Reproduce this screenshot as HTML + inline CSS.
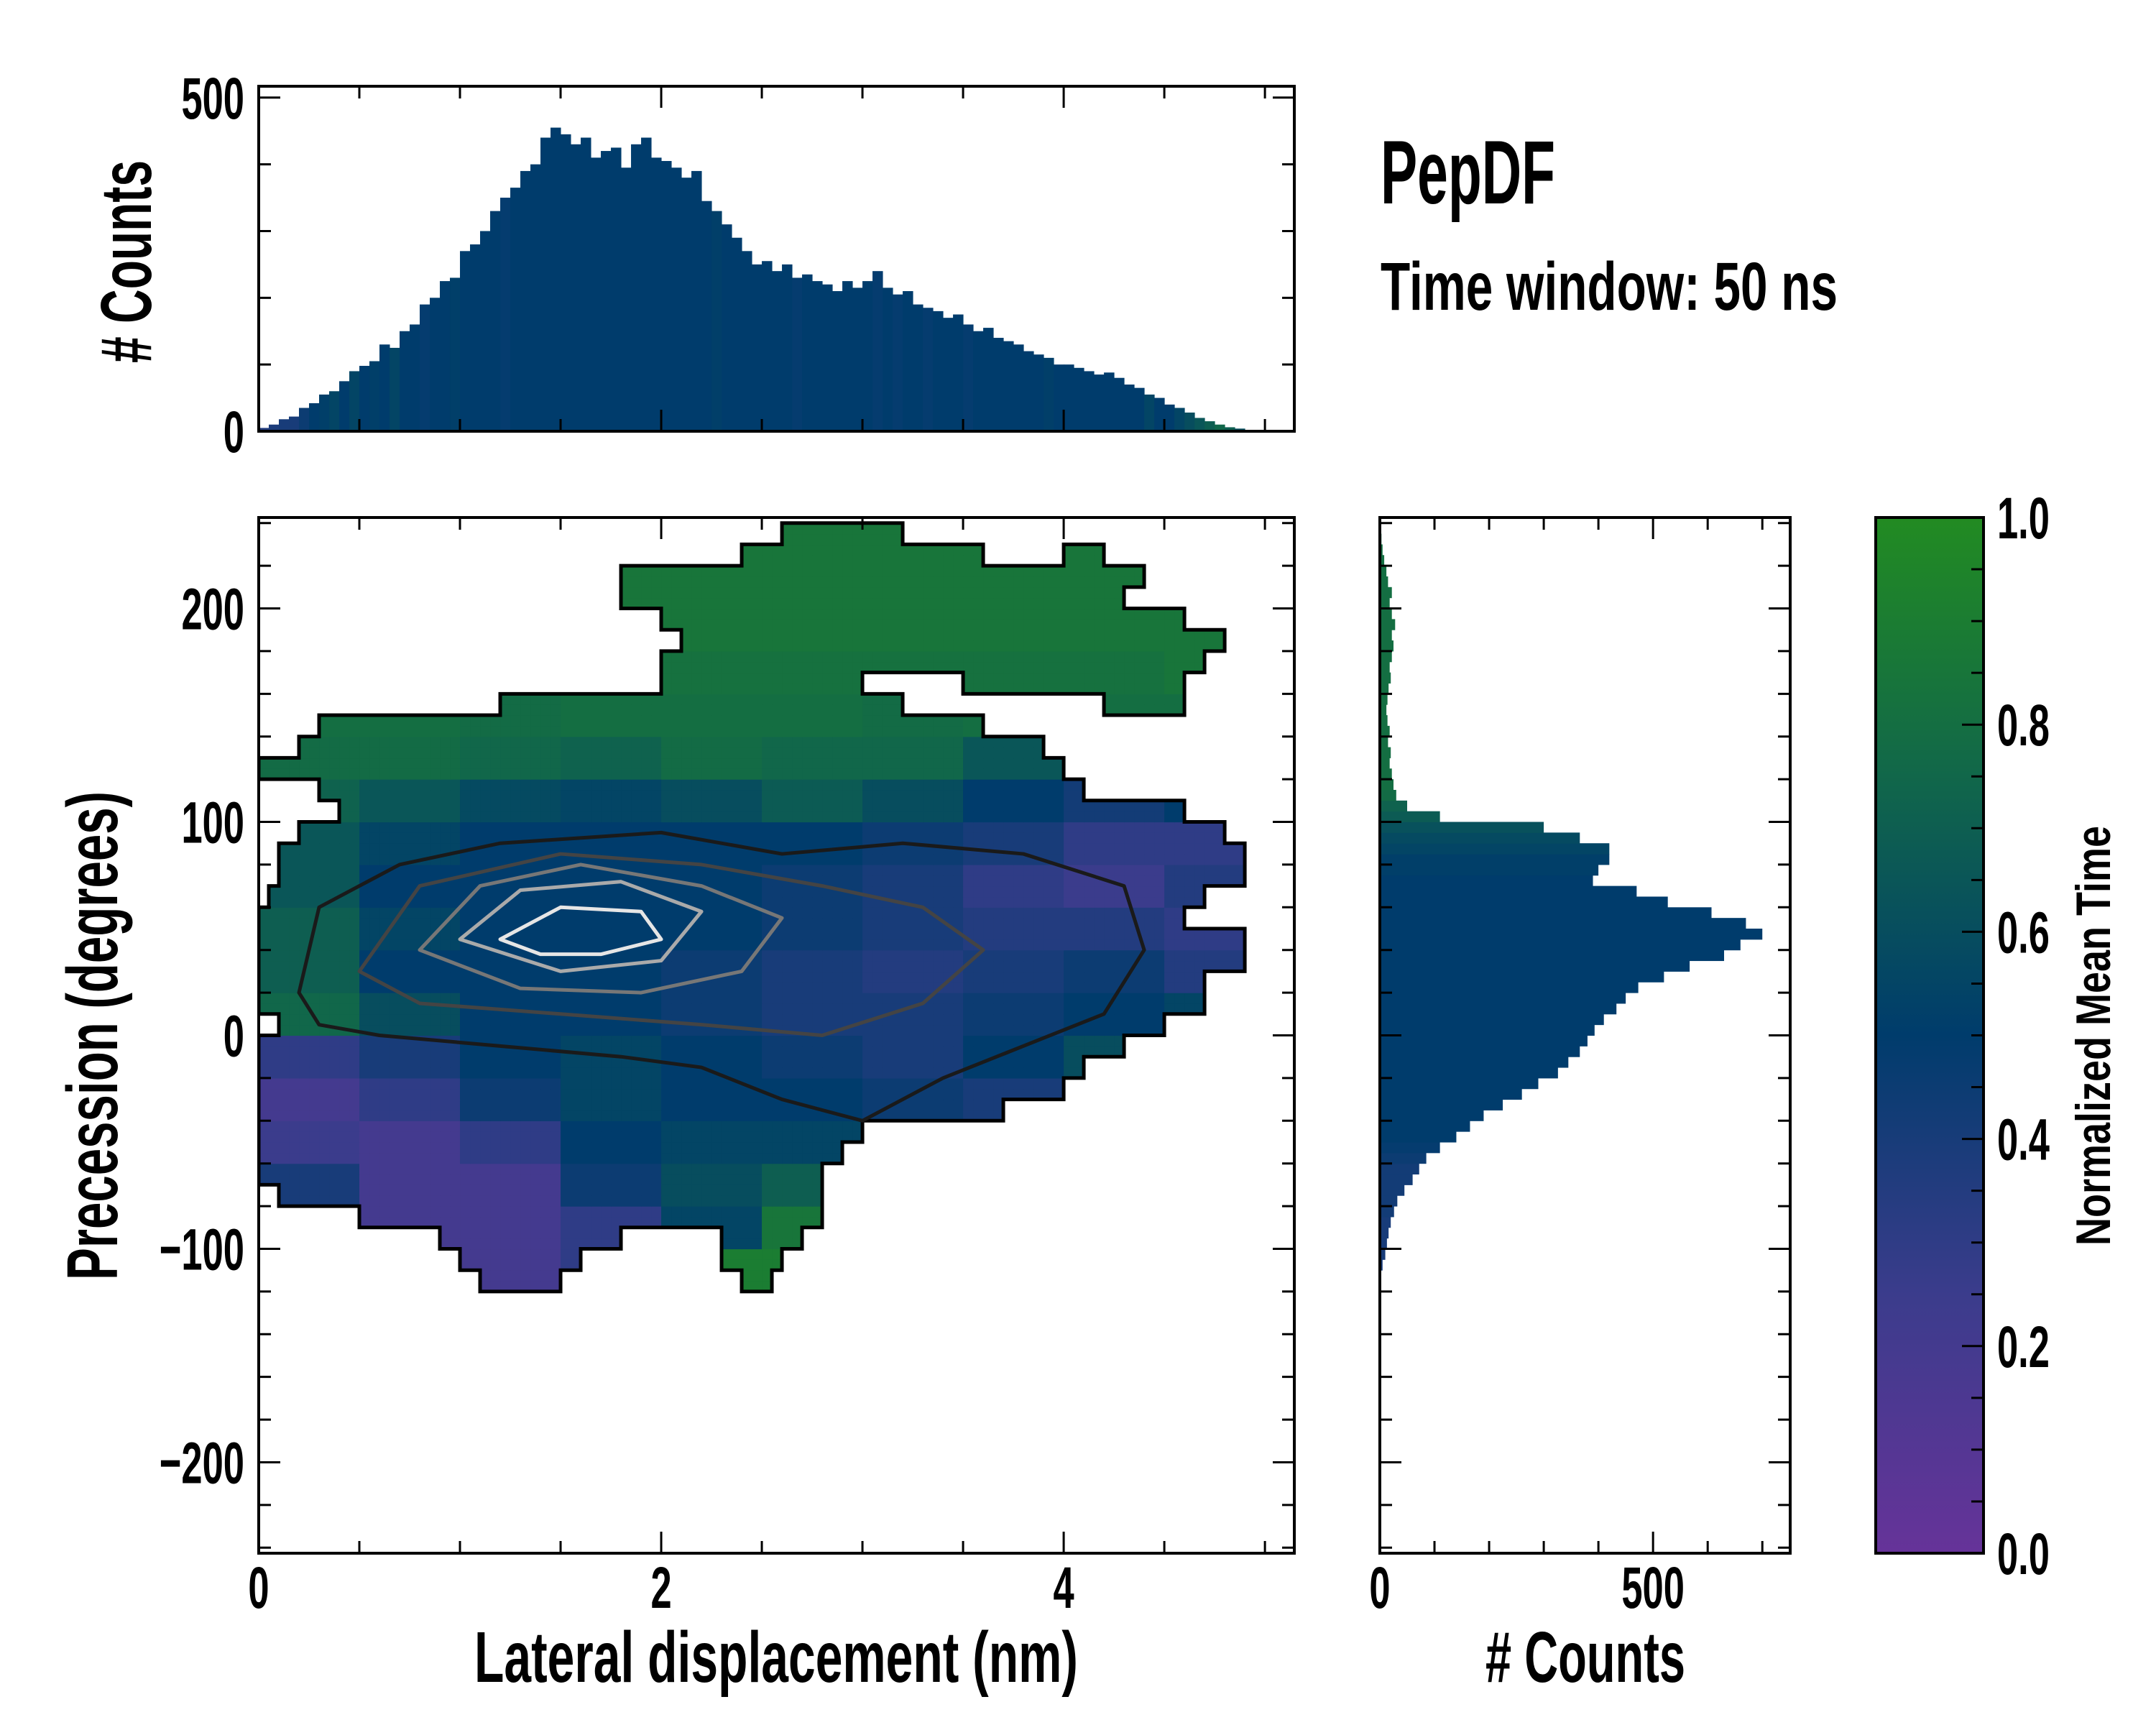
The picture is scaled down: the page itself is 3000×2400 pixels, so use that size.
<!DOCTYPE html>
<html><head><meta charset="utf-8">
<style>
html,body{margin:0;padding:0;background:#fff;}
svg{display:block;font-family:"Liberation Sans Narrow","Liberation Sans",sans-serif;font-weight:bold;}
</style></head>
<body>
<svg id="fig" width="3000" height="2400" viewBox="0 0 3000 2400" xmlns="http://www.w3.org/2000/svg">
<rect x="0" y="0" width="3000" height="2400" fill="#fff"/>
<defs>
<linearGradient id="cbgrad" x1="0" y1="1" x2="0" y2="0">
<stop offset="0" stop-color="#663399"/><stop offset="0.25" stop-color="#3b3c8c"/><stop offset="0.5" stop-color="#003c6c"/><stop offset="0.75" stop-color="#11674a"/><stop offset="1" stop-color="#228b22"/>
</linearGradient>
<clipPath id="mainclip"><rect x="360" y="720" width="1441" height="1441"/></clipPath>
</defs>
<g id="heat" clip-path="url(#mainclip)"></g>
<g id="outline" clip-path="url(#mainclip)"></g>
<g id="contours" clip-path="url(#mainclip)"></g>
<g id="tophist"></g>
<g id="righthist"></g>
<rect x="2610" y="720" width="150" height="1441" fill="url(#cbgrad)" stroke="#000" stroke-width="4"/>
<g id="axes"></g>

<text x="1921" y="283" font-size="125" textLength="243" lengthAdjust="spacingAndGlyphs">PepDF</text>
<text x="1921" y="431" font-size="95" textLength="636" lengthAdjust="spacingAndGlyphs">Time window: 50 ns</text>
<text x="1080" y="2340" font-size="100" text-anchor="middle" textLength="840" lengthAdjust="spacingAndGlyphs">Lateral displacement (nm)</text>
<text x="2206" y="2340" font-size="100" text-anchor="middle" textLength="278" lengthAdjust="spacingAndGlyphs"># Counts</text>
<text transform="translate(210,364) rotate(-90)" font-size="100" text-anchor="middle" textLength="282" lengthAdjust="spacingAndGlyphs"># Counts</text>
<text transform="translate(163,1441) rotate(-90)" font-size="100" text-anchor="middle" textLength="680" lengthAdjust="spacingAndGlyphs">Precession (degrees)</text>
<text transform="translate(2936,1441) rotate(-90)" font-size="68" text-anchor="middle" textLength="584" lengthAdjust="spacingAndGlyphs">Normalized Mean Time</text>
</svg>
<script>
// ---------- data ----------
const topBinWidth = 0.05;
const topCounts = [5,10,18,22,35,42,55,60,75,90,98,105,130,125,150,160,190,200,225,230,270,280,300,330,350,365,390,400,440,455,445,430,440,410,420,425,395,430,440,410,405,395,380,390,345,330,310,290,270,250,255,240,250,230,235,225,220,210,225,215,225,240,215,205,210,190,185,180,170,175,160,150,155,140,135,130,120,115,110,100,100,95,90,85,88,80,70,65,55,50,40,35,28,20,15,10,6,4,2,1];
const topTime = [0.35,0.38,0.4,0.4,0.45,0.5,0.52,0.55,0.5,0.55,0.5,0.52,0.5,0.55,0.5,0.5,0.48,0.5,0.5,0.52,0.5,0.5,0.5,0.5,0.48,0.5,0.5,0.5,0.5,0.5,0.5,0.5,0.5,0.5,0.5,0.5,0.5,0.5,0.5,0.5,0.5,0.5,0.5,0.5,0.5,0.52,0.5,0.5,0.5,0.5,0.5,0.5,0.5,0.48,0.5,0.5,0.5,0.5,0.5,0.5,0.5,0.48,0.5,0.48,0.5,0.5,0.48,0.5,0.5,0.5,0.48,0.5,0.5,0.5,0.5,0.5,0.5,0.5,0.52,0.5,0.5,0.5,0.5,0.5,0.5,0.5,0.5,0.5,0.55,0.5,0.5,0.55,0.6,0.65,0.7,0.75,0.7,0.6,0.5,0.5];
const rightBinStart = -120;
const rightBinWidth = 5;
const rightCounts = [0,2,5,10,13,16,20,26,32,45,60,72,85,110,140,165,190,225,260,290,326,345,366,380,393,410,433,450,473,520,567,630,660,700,670,607,527,470,390,400,420,420,366,300,110,50,30,25,22,18,20,15,18,14,12,14,16,20,18,22,25,22,28,22,18,22,15,12,8,5,3,0];
const rightTime = [0.4,0.4,0.4,0.4,0.4,0.4,0.4,0.42,0.42,0.42,0.42,0.42,0.45,0.48,0.5,0.5,0.5,0.5,0.5,0.5,0.5,0.5,0.5,0.5,0.5,0.5,0.5,0.5,0.5,0.5,0.5,0.5,0.5,0.5,0.5,0.5,0.5,0.5,0.5,0.52,0.52,0.55,0.58,0.62,0.68,0.72,0.78,0.8,0.8,0.8,0.8,0.8,0.8,0.8,0.8,0.8,0.8,0.8,0.8,0.8,0.8,0.8,0.8,0.8,0.8,0.8,0.8,0.8,0.8,0.8,0.8,0.8];
// occupancy per 10-degree row (row centers), spans in nm
const rowCenters = [235,225,215,205,195,185,175,165,155,145,135,125,115,105,95,85,75,65,55,45,35,25,15,5,-5,-15,-25,-35,-45,-55,-65,-75,-85,-95,-105,-115];
const spanStartA = [2.6,2.4,1.8,1.8,2.0,2.1,2.0,2.0,1.2,0.3,0.2,0.0,0.3,0.4,0.2,0.1,0.1,0.05,0.0,0.0,0.0,0.0,0.0,0.1,0.0,0.0,0.0,0.0,0.0,0.0,0.0,0.1,0.5,0.9,1.0,1.1];
const spanEndA   = [3.2,3.6,4.4,4.3,4.6,4.8,4.7,3.0,3.2,3.6,3.9,4.0,4.1,4.6,4.8,4.9,4.9,4.7,4.6,4.9,4.9,4.7,4.7,4.5,4.3,4.1,4.0,3.7,3.0,2.9,2.8,2.8,2.8,1.8,1.6,1.5];
const spanStartB = [null,4.0,null,null,null,null,null,3.5,4.2,null,null,null,null,null,null,null,null,null,null,null,null,null,null,null,null,null,null,null,null,null,null,null,null,2.3,2.3,2.4];
const spanEndB   = [null,4.2,null,null,null,null,null,4.6,4.6,null,null,null,null,null,null,null,null,null,null,null,null,null,null,null,null,null,null,null,null,null,null,null,null,2.7,2.6,2.55];
// coarse mean-time grid: rows of 20 deg (top row 220-240) x cols of 0.5 nm
const timeRowTop = [240,220,200,180,160,140,120,100,80,60,40,20,0,-20,-40,-60,-80,-100];
const timeGrid = [
[0.85,0.85,0.85,0.85,0.85,0.85,0.85,0.85,0.85,0.85,0.85],
[0.85,0.85,0.85,0.85,0.85,0.85,0.85,0.85,0.85,0.85,0.85],
[0.85,0.85,0.85,0.85,0.85,0.85,0.85,0.85,0.85,0.85,0.85],
[0.82,0.82,0.82,0.82,0.82,0.82,0.82,0.82,0.82,0.85,0.85],
[0.8,0.8,0.78,0.8,0.8,0.8,0.78,0.8,0.8,0.8,0.8],
[0.78,0.78,0.75,0.72,0.78,0.75,0.75,0.65,0.6,0.6,0.6],
[0.72,0.65,0.58,0.55,0.6,0.68,0.6,0.5,0.42,0.5,0.6],
[0.65,0.55,0.5,0.5,0.5,0.5,0.45,0.4,0.3,0.3,0.5],
[0.65,0.5,0.5,0.5,0.5,0.45,0.4,0.3,0.25,0.35,0.5],
[0.7,0.55,0.5,0.5,0.5,0.45,0.4,0.35,0.35,0.3,0.4],
[0.7,0.5,0.5,0.5,0.45,0.4,0.35,0.4,0.45,0.35,0.4],
[0.75,0.6,0.5,0.5,0.45,0.4,0.4,0.45,0.5,0.55,0.6],
[0.3,0.4,0.5,0.55,0.5,0.45,0.4,0.5,0.6,0.6,0.6],
[0.2,0.3,0.45,0.55,0.5,0.5,0.45,0.4,0.6,0.6,0.6],
[0.25,0.2,0.3,0.5,0.55,0.55,0.35,0.45,0.5,0.5,0.5],
[0.4,0.2,0.2,0.45,0.6,0.7,0.5,0.5,0.5,0.5,0.5],
[0.3,0.2,0.2,0.3,0.55,0.85,0.85,0.5,0.5,0.5,0.5],
[0.2,0.2,0.2,0.3,0.9,0.9,0.9,0.5,0.5,0.5,0.5]];
// density contour loops (nm, degrees)
const contourA_x = [0.2,0.3,0.7,1.2,2.0,2.6,3.2,3.8,4.3,4.4,4.2,3.8,3.4,3.0,2.6,2.2,1.8,1.2,0.6,0.3];
const contourA_y = [20,60,80,90,95,85,90,85,70,40,10,-5,-20,-40,-30,-15,-10,-5,0,5];
const contourB_x = [0.5,0.8,1.5,2.2,2.8,3.3,3.6,3.3,2.8,2.2,1.5,0.8];
const contourB_y = [30,70,85,80,70,60,40,15,0,5,10,15];
const contourC_x = [0.8,1.1,1.6,2.2,2.6,2.4,1.9,1.3];
const contourC_y = [40,70,80,70,55,30,20,22];
const contourD_x = [1.0,1.3,1.8,2.2,2.0,1.5];
const contourD_y = [45,68,72,58,35,30];
const contourE_x = [1.2,1.5,1.9,2.0,1.7,1.4];
const contourE_y = [45,60,58,45,38,38];
const xTicks = [0,2,4];
const yTicks = [-200,-100,0,100,200];
const topYTicks = [0,500];
const rightXTicks = [0,500];
const cbTicks = [0.0,0.2,0.4,0.6,0.8,1.0];

// ---------- scales ----------
const MX0=360, MX1=1801, MY0=720, MY1=2161;
const XMAX=5.146, YMIN=-242.6, YMAX=242.6;
const sx = v => MX0 + v/XMAX*(MX1-MX0);
const sy = v => MY1 - (v-YMIN)/(YMAX-YMIN)*(MY1-MY0);
const TY0=120, TY1=600, TMAX=517;
const tsy = c => TY1 - c/TMAX*(TY1-TY0);
const RX0=1920, RX1=2491, RMAX=751;
const rsx = c => RX0 + c/RMAX*(RX1-RX0);
const CB0=720, CB1=2161;
const csy = t => CB1 - t*(CB1-CB0);

const stops=[[0,[0x66,0x33,0x99]],[0.25,[0x3b,0x3c,0x8c]],[0.5,[0x00,0x3c,0x6c]],[0.75,[0x11,0x67,0x4a]],[1,[0x22,0x8b,0x22]]];
function cmap(t){t=Math.max(0,Math.min(1,t));for(let i=1;i<stops.length;i++){if(t<=stops[i][0]){const a=stops[i-1],b=stops[i],f=(t-a[0])/(b[0]-a[0]);const c=a[1].map((v,k)=>Math.round(v+(b[1][k]-v)*f));return `rgb(${c[0]},${c[1]},${c[2]})`;}}return 'rgb(34,139,34)';}

const NS='http://www.w3.org/2000/svg';
function mk(tag,attrs,parent){const e=document.createElementNS(NS,tag);for(const k in attrs)e.setAttribute(k,attrs[k]);parent.appendChild(e);return e;}

// ---------- heatmap ----------
const heat=document.getElementById('heat');
const CW=0.05, CH=5;
const nCols=Math.ceil(XMAX/CW);
const rowsLo=-120, rowsHi=240;
const nRows=(rowsHi-rowsLo)/CH;
const occ=[];
function lookupTime(x,y){let r=timeRowTop.findIndex(t=>y<t && y>=t-20);if(r<0)r=y>=240?0:timeRowTop.length-1;let c=Math.min(timeGrid[r].length-1,Math.floor(x/0.5));return timeGrid[r][c];}
for(let j=0;j<nRows;j++){
  occ.push([]);
  const yc=rowsLo+(j+0.5)*CH;
  let ri=rowCenters.findIndex(rc=>Math.abs(rc-yc)<=5);
  for(let i=0;i<nCols;i++){
    const xc=(i+0.5)*CW;
    let on=false;
    if(ri>=0){
      if(xc>=spanStartA[ri]&&xc<=spanEndA[ri])on=true;
      if(spanStartB[ri]!==null&&xc>=spanStartB[ri]&&xc<=spanEndB[ri])on=true;
    }
    occ[j].push(on);
    if(on){
      const r=mk('rect',{x:sx(i*CW),y:sy(rowsLo+(j+1)*CH),width:sx(CW)-sx(0)+0.6,height:sy(0)-sy(CH)+0.6,fill:cmap(lookupTime(xc,yc))},heat);
      
      
    }
  }
}
// outline
let d='';
const isOn=(j,i)=>j>=0&&j<nRows&&i>=0&&i<nCols&&occ[j][i];
for(let j=0;j<nRows;j++)for(let i=0;i<nCols;i++){if(!occ[j][i])continue;
  const x0=sx(i*CW),x1=sx((i+1)*CW),yb=sy(rowsLo+j*CH),yt=sy(rowsLo+(j+1)*CH);
  if(!isOn(j,i-1))d+=`M${x0},${yb}V${yt}`;
  if(!isOn(j,i+1))d+=`M${x1},${yb}V${yt}`;
  if(!isOn(j+1,i))d+=`M${x0},${yt}H${x1}`;
  if(!isOn(j-1,i))d+=`M${x0},${yb}H${x1}`;}
const ol=mk('path',{d:d,stroke:'#000',"stroke-width":5,fill:'none',"stroke-linecap":'square'},document.getElementById('outline'));



// contours
const cg=document.getElementById('contours');
const contourSets=[[contourA_x,contourA_y,'#1a1a1a'],[contourB_x,contourB_y,'#444'],[contourC_x,contourC_y,'#777'],[contourD_x,contourD_y,'#aaa'],[contourE_x,contourE_y,'#e6e6e6']];
contourSets.forEach((s,k)=>{
  const pts=s[0].map((x,i)=>`${sx(x)},${sy(s[1][i])}`).join(' ');
  const p=mk('polygon',{points:pts,fill:'none',stroke:s[2],"stroke-width":5,"stroke-linejoin":'round'},cg);
  
  
});

// top histogram
const th=document.getElementById('tophist');
topCounts.forEach((c,i)=>{
  const x0=sx(i*topBinWidth), x1=sx((i+1)*topBinWidth);
  const r=mk('rect',{x:x0,y:tsy(c),width:x1-x0+0.5,height:TY1-tsy(c),fill:cmap(topTime[i])},th);
  
  
});
// right histogram
const rh=document.getElementById('righthist');
rightCounts.forEach((c,i)=>{
  const y0=sy(rightBinStart+(i+1)*rightBinWidth), y1=sy(rightBinStart+i*rightBinWidth);
  const r=mk('rect',{x:RX0,y:y0,width:rsx(c)-RX0,height:y1-y0+0.5,fill:cmap(rightTime[i])},rh);
  
  
});

// ---------- axes ----------
const ax=document.getElementById('axes');
function frame(x0,y0,x1,y1,name){const r=mk('rect',{x:x0,y:y0,width:x1-x0,height:y1-y0,fill:'none',stroke:'#000',"stroke-width":4},ax);}
let td='';
function hticks(scale,vals,y0,y1,len){vals.forEach(v=>{const x=scale(v);td+=`M${x},${y1}v${-len}M${x},${y0}v${len}`;});}
function vticks(scale,vals,x0,x1,len){vals.forEach(v=>{const y=scale(v);td+=`M${x0},${y}h${len}M${x1},${y}h${-len}`;});}
const rng=(a,b,s)=>{const o=[];for(let v=a;v<=b+1e-9;v+=s)o.push(+v.toFixed(4));return o;};
hticks(sx,rng(0,5,0.5),MY0,MY1,17); hticks(sx,xTicks,MY0,MY1,30);
vticks(sy,rng(-240,240,20),MX0,MX1,17); vticks(sy,yTicks,MX0,MX1,30);
hticks(sx,rng(0,5,0.5),TY0,TY1,17); hticks(sx,xTicks,TY0,TY1,30);
vticks(tsy,rng(0,500,100),MX0,MX1,17); vticks(tsy,topYTicks,MX0,MX1,30);
hticks(rsx,rng(0,700,100),MY0,MY1,17); hticks(rsx,rightXTicks,MY0,MY1,30);
vticks(sy,rng(-240,240,20),RX0,RX1,17); vticks(sy,yTicks,RX0,RX1,30);
rng(0,1,0.05).forEach(v=>{td+=`M2760,${csy(v)}h-17`;});
cbTicks.forEach(v=>{td+=`M2760,${csy(v)}h-30`;});
const tp=mk('path',{d:td,stroke:'#000',"stroke-width":3,fill:'none'},ax);


frame(MX0,MY0,MX1,MY1,'main-axes-frame');
frame(MX0,TY0,MX1,TY1,'top-hist-frame');
frame(RX0,MY0,RX1,MY1,'right-hist-frame');

const SXF=0.64;
function label(txt,x,y,anchor,name){
  const t=mk('text',{x:x/SXF,y:y,"text-anchor":anchor,"font-size":82,transform:`scale(${SXF},1)`},ax);
  t.textContent=txt;
  
  
  return t;}
const fmtDeg=v=>v<0?'\u2212'+Math.abs(v):String(v);
xTicks.forEach(v=>label(String(v),sx(v),2237,'middle','x-tick-label'));
yTicks.forEach(v=>label(fmtDeg(v),340,sy(v)+29,'end','y-tick-label'));
topYTicks.forEach(v=>label(String(v),340,tsy(v)+29,'end','top-hist-y-tick-label'));
rightXTicks.forEach(v=>label(String(v),rsx(v),2237,'middle','right-hist-x-tick-label'));
cbTicks.forEach(v=>label(v.toFixed(1),2779,csy(v)+29,'start','colorbar-tick-label'));
</script>
</body></html>
